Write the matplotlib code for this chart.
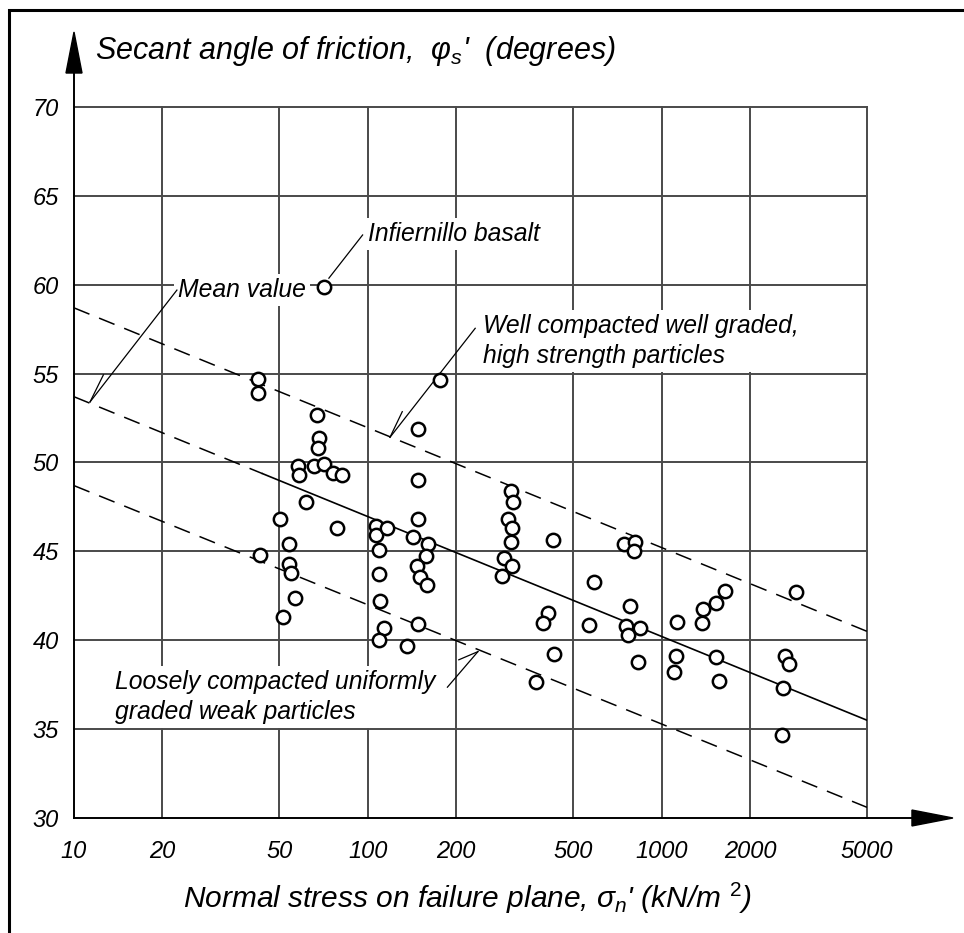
import numpy as np
import matplotlib
matplotlib.use("Agg")
import matplotlib.pyplot as plt
from matplotlib.patches import Polygon, Rectangle

plt.rcParams['font.family'] = ['Liberation Sans', 'DejaVu Sans']
plt.rcParams['mathtext.fontset'] = 'custom'
plt.rcParams['mathtext.it'] = 'Liberation Sans:italic'
plt.rcParams['mathtext.rm'] = 'Liberation Sans'
plt.rcParams['lines.scale_dashes'] = False

# ---------------- data ----------------
x_ticks = [10, 20, 50, 100, 200, 500, 1000, 2000, 5000]
x_tick_labels = ['10', '20', '50', '100', '200', '500', '1000', '2000', '5000']
y_ticks = [30, 35, 40, 45, 50, 55, 60, 65, 70]
y_tick_labels = ['30', '35', '40', '45', '50', '55', '60', '65', '70']

stress = [42.4, 42.4, 43.1, 50.4, 54.0, 53.8, 54.8, 56.3, 51.3, 57.8, 58.2, 61.4,
          66.9, 68.1, 67.6, 65.5, 71.2, 76.0, 81.9, 78.7, 70.7,
          107, 107, 109, 109, 110, 113.5, 109.3, 116, 136, 142, 160, 157.5, 147,
          150, 159, 148, 148, 148, 148, 176,
          307, 311, 299, 310, 307, 291, 310, 286, 428, 409, 394, 373, 430, 568, 590,
          743, 811, 805, 778, 756, 847, 766, 834,
          1130, 1122, 1101, 1383, 1527, 1638, 1372, 1536, 1568,
          2862, 2630, 2720, 2590, 2560]
phi = [54.7, 53.9, 44.8, 46.8, 45.4, 44.3, 43.8, 42.4, 41.3, 49.8, 49.3, 47.8,
       52.7, 51.4, 50.8, 49.8, 49.9, 49.4, 49.3, 46.3, 59.9,
       46.4, 45.9, 45.1, 43.7, 42.2, 40.7, 40.0, 46.3, 39.65, 45.8, 45.4, 44.75, 44.2,
       43.55, 43.1, 40.9, 49.0, 46.8, 51.9, 54.65,
       48.4, 47.8, 46.8, 46.3, 45.5, 44.65, 44.2, 43.6, 45.65, 41.55, 40.95, 37.65, 39.2, 40.85, 43.25,
       45.4, 45.55, 45.0, 41.9, 40.8, 40.7, 40.3, 38.8,
       41.05, 39.1, 38.2, 41.75, 42.1, 42.75, 40.95, 39.05, 37.7,
       42.7, 39.1, 38.65, 37.3, 34.65]

line_x = [10, 5000]
upper_line = [58.7, 40.5]
mean_line = [53.7, 35.5]
lower_line = [48.7, 30.6]
mean_solid_from = 43.8

# ---------------- figure ----------------
W, H = 964, 933
fig = plt.figure(figsize=(W / 100, H / 100), dpi=100)
fig.patch.set_facecolor('white')

# outer frame (left + top visible)
fig.add_artist(Rectangle((9 / W, -0.05), 1.2, 1 - 10 / H + 0.05, transform=fig.transFigure,
                         fill=False, ec='black', lw=2.2))

L, R, T, B = 74, 867, 107, 818
ax = fig.add_axes([L / W, 1 - B / H, (R - L) / W, (B - T) / H])
ax.set_xscale('log')
ax.set_xlim(10, 5000)
ax.set_ylim(30, 70)
for s in ax.spines.values():
    s.set_visible(False)
ax.set_facecolor('none')

ax.set_xticks(x_ticks)
ax.set_xticklabels(x_tick_labels)
ax.xaxis.set_minor_locator(matplotlib.ticker.NullLocator())
ax.set_yticks(y_ticks)
ax.set_yticklabels(y_tick_labels)
ax.tick_params(axis='both', length=0, labelsize=17)
ax.tick_params(axis='x', pad=16)
ax.tick_params(axis='y', pad=11)
for lab in ax.get_xticklabels() + ax.get_yticklabels():
    lab.set_fontstyle('italic')

grid_kw = dict(color='#4a4a4a', lw=1.4, zorder=1, clip_on=False)
for xv in x_ticks[1:]:
    ax.axvline(xv, **grid_kw)
for yv in y_ticks[1:]:
    ax.axhline(yv, **grid_kw)

# axes with arrows
ax.plot([0, 1.0567], [0, 0], transform=ax.transAxes, color='black', lw=1.4, clip_on=False, zorder=3)
ax.plot([0, 0], [0, 1.05], transform=ax.transAxes, color='black', lw=1.4, clip_on=False, zorder=3)
ax.add_patch(Polygon([[1.1084, 0], [1.0567, 0.0112], [1.0567, -0.0112]], closed=True,
                     transform=ax.transAxes, color='black', clip_on=False, zorder=3))
ax.add_patch(Polygon([[0, 1.1055], [-0.0101, 1.0478], [0.0101, 1.0478]], closed=True,
                     transform=ax.transAxes, color='black', clip_on=False, zorder=3))

# trend lines
dash = (0, (12, 7.5))
ax.plot(line_x, upper_line, color='black', lw=1.1, linestyle=dash, zorder=2)
ax.plot(line_x, lower_line, color='black', lw=1.1, linestyle=dash, zorder=2)
lx = np.log10(line_x)
y_split = np.interp(np.log10(mean_solid_from), lx, mean_line)
ax.plot([line_x[0], mean_solid_from], [mean_line[0], y_split], color='black', lw=1.1,
        linestyle=dash, zorder=2)
ax.plot([mean_solid_from, line_x[1]], [y_split, mean_line[1]], color='black', lw=1.2, zorder=2)

# data points
ax.plot(stress, phi, linestyle='none', marker='o', markersize=9.6, markerfacecolor='white',
        markeredgecolor='black', markeredgewidth=1.8, zorder=6, clip_on=False)

# annotations
tkw = dict(fontsize=17.8, fontstyle='italic', zorder=4,
           bbox=dict(facecolor='white', edgecolor='none', pad=3))
lkw = dict(color='black', lw=0.9, zorder=5)

ax.text(22.6, 59.7, 'Mean value', ha='left', va='center', **tkw)
ax.plot([22.4, 11.34], [59.7, 53.41], **lkw)
ax.plot([11.34, 12.59], [53.41, 54.93], **lkw)

ax.text(99.9, 62.86, 'Infiernillo basalt', ha='left', va='center', **tkw)
ax.plot([96.0, 73.7], [62.8, 60.37], **lkw)

ax.text(246, 56.84, 'Well compacted well graded,\nhigh strength particles', ha='left',
        va='center', linespacing=1.3, **tkw)
ax.plot([232, 119], [57.55, 51.42], **lkw)
ax.plot([119, 131], [51.42, 52.86], **lkw)

ax.text(13.8, 36.79, 'Loosely compacted uniformly\ngraded weak particles', ha='left',
        va='center', linespacing=1.3, **tkw)
ax.plot([186.6, 237], [37.36, 39.36], **lkw)
ax.plot([237, 204], [39.36, 38.9], **lkw)

# axis titles
fig.text(95 / W, 1 - 51 / H, "Secant angle of friction,  $\\varphi_s$'  (degrees)",
         fontsize=22, fontstyle='italic', ha='left', va='center')
fig.text(467 / W, 1 - 898 / H, "Normal stress on failure plane, $\\sigma_n$' (kN/m $^2$)",
         fontsize=21.5, fontstyle='italic', ha='center', va='center')

fig.savefig('out.png', dpi=100, facecolor='white')
